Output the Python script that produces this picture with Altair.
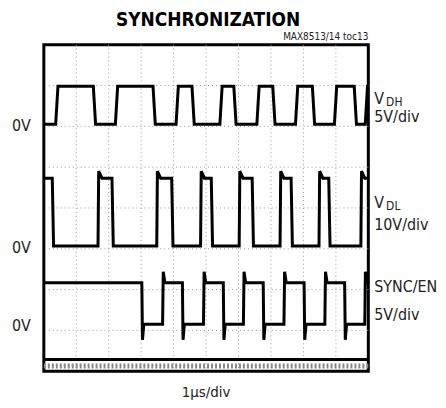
import altair as alt
import pandas as pd

# Oscilloscope screen: x in divisions (1us/div, 0..10), y in divisions (0..8, top = 8)
vdh_edges = [0.40, 1.56, 2.24, 3.40, 4.11, 4.60, 5.46, 5.89, 6.60, 7.09, 7.79, 8.31, 8.99, 9.60, 9.94]
vdh_start_high = False
vdh_low, vdh_high = 6.05, 6.98

vdl_edges = [0.28, 1.69, 2.12, 3.50, 3.96, 4.85, 5.18, 6.04, 6.44, 7.30, 7.64, 8.50, 8.80, 9.79]
vdl_start_high = True
vdl_low, vdl_high = 3.07, 4.73
vdl_rise_spike = 0.17

sync_edges = [3.04, 3.68, 4.29, 4.94, 5.55, 6.17, 6.78, 7.42, 8.04, 8.68, 9.29, 9.91]
sync_start_high = True
sync_low, sync_high = 1.15, 2.17
sync_spike = 0.38

gnd_x = [0.0, 10.0]
gnd_level = 0.29
band_level = 0.13

grid_x = [1, 2, 3, 4, 5, 6, 7, 8, 9]
grid_y = [1, 2, 3, 4, 5, 6, 7]

right_text = ["V", "5V/div", "V", "10V/div", "SYNC/EN", "5V/div"]
right_y = [6.66, 6.23, 4.12, 3.59, 2.06, 1.38]
sub_text = ["DH", "DL"]
sub_y = [6.60, 4.06]
zero_text = ["0V", "0V", "0V"]
zero_y = [6.02, 3.02, 1.10]


def build(name, edges, start_high, low, high, rise_spike=0.0, fall_spike=0.0,
          w=0.05, decay=0.12):
    pts = []
    lvl = high if start_high else low
    pts.append((0.0, lvl))
    for t in edges:
        rising = lvl == low
        new = high if rising else low
        pts.append((t - w / 2, lvl))
        if rising and rise_spike:
            pts.append((t, new + rise_spike))
            pts.append((t + decay, new))
        elif (not rising) and fall_spike:
            pts.append((t, new - fall_spike))
            pts.append((t + w, new))
        else:
            pts.append((t + w / 2, new))
        lvl = new
    pts.append((10.0, lvl))
    return pd.DataFrame({"t": [p[0] for p in pts], "v": [p[1] for p in pts],
                         "i": list(range(len(pts))), "trace": name})


traces = pd.concat([
    build("VDH", vdh_edges, vdh_start_high, vdh_low, vdh_high, w=0.07),
    build("VDL", vdl_edges, vdl_start_high, vdl_low, vdl_high, rise_spike=vdl_rise_spike, w=0.04, decay=0.1),
    build("SYNC", sync_edges, sync_start_high, sync_low, sync_high,
          rise_spike=sync_spike * 0.7, fall_spike=sync_spike, w=0.04, decay=0.05),
], ignore_index=True)

xs = alt.Scale(domain=[0, 10], nice=False, zero=False)
ys = alt.Scale(domain=[0, 8], nice=False, zero=False)
FONT = "'DejaVu Sans Condensed', 'Liberation Sans', sans-serif"
TXT = "#222222"

vgrid = alt.Chart(pd.DataFrame({"gx": grid_x})).mark_rule(
    color="#999999", strokeWidth=1, strokeDash=[1, 3]).encode(
    x=alt.X("gx:Q", scale=xs, axis=None))
hgrid = alt.Chart(pd.DataFrame({"gy": grid_y})).mark_rule(
    color="#999999", strokeWidth=1, strokeDash=[1, 3]).encode(
    y=alt.Y("gy:Q", scale=ys, axis=None))

lines = alt.Chart(traces).mark_line(color="black", strokeWidth=3, strokeJoin="miter").encode(
    x=alt.X("t:Q", scale=xs, axis=None),
    y=alt.Y("v:Q", scale=ys, axis=None),
    order="i:Q",
    detail="trace:N",
)

gnd_df = pd.DataFrame({"t": gnd_x, "g": [gnd_level] * 2, "b": [band_level] * 2})
gnd = alt.Chart(gnd_df).mark_line(color="black", strokeWidth=3).encode(
    x=alt.X("t:Q", scale=xs, axis=None), y=alt.Y("g:Q", scale=ys, axis=None))
band = alt.Chart(gnd_df).mark_line(color="#888888", strokeWidth=5, strokeDash=[2, 2]).encode(
    x=alt.X("t:Q", scale=xs, axis=None), y=alt.Y("b:Q", scale=ys, axis=None))

right_df = pd.DataFrame({"x": [10.18] * len(right_text), "y": right_y, "txt": right_text})
right = alt.Chart(right_df).mark_text(align="left", baseline="middle", font=FONT, fontSize=16,
                                      color=TXT).encode(
    x=alt.X("x:Q", scale=xs, axis=None), y=alt.Y("y:Q", scale=ys, axis=None), text="txt:N")

sub_df = pd.DataFrame({"x": [10.18] * 2, "y": sub_y, "txt": sub_text})
sub = alt.Chart(sub_df).mark_text(align="left", baseline="middle", font=FONT, fontSize=12, dx=12,
                                  color=TXT).encode(
    x=alt.X("x:Q", scale=xs, axis=None), y=alt.Y("y:Q", scale=ys, axis=None), text="txt:N")

zero_df = pd.DataFrame({"x": [-0.40] * 3, "y": zero_y, "txt": zero_text})
zero = alt.Chart(zero_df).mark_text(align="right", baseline="middle", font=FONT, fontSize=16,
                                    color=TXT).encode(
    x=alt.X("x:Q", scale=xs, axis=None), y=alt.Y("y:Q", scale=ys, axis=None), text="txt:N")

title_df = pd.DataFrame({"x": [5.06], "y": [8.61], "txt": ["SYNCHRONIZATION"]})
title = alt.Chart(title_df).mark_text(align="center", baseline="middle", font=FONT, fontSize=19,
                                      fontWeight="bold", color="black").encode(
    x=alt.X("x:Q", scale=xs, axis=None), y=alt.Y("y:Q", scale=ys, axis=None), text="txt:N")

code_df = pd.DataFrame({"x": [10.0], "y": [8.2], "txt": ["MAX8513/14 toc13"]})
code = alt.Chart(code_df).mark_text(align="right", baseline="middle", font=FONT, fontSize=10,
                                    color=TXT).encode(
    x=alt.X("x:Q", scale=xs, axis=None), y=alt.Y("y:Q", scale=ys, axis=None), text="txt:N")

xl_df = pd.DataFrame({"x": [5.0], "y": [-0.51], "txt": ["1\u00b5s/div"]})
xl = alt.Chart(xl_df).mark_text(align="center", baseline="middle", font=FONT, fontSize=15,
                                color=TXT).encode(
    x=alt.X("x:Q", scale=xs, axis=None), y=alt.Y("y:Q", scale=ys, axis=None), text="txt:N")

chart = alt.layer(vgrid, hgrid, lines, band, gnd, right, sub, zero, title, code, xl).properties(
    width=326, height=328,
    autosize=alt.AutoSizeParams(type="none"),
    padding={"left": 36, "top": 36, "right": 70, "bottom": 28},
    background="white",
).configure_view(stroke="black", strokeWidth=3)

chart.save("out.html", embed_options={"renderer": "svg", "actions": False})
